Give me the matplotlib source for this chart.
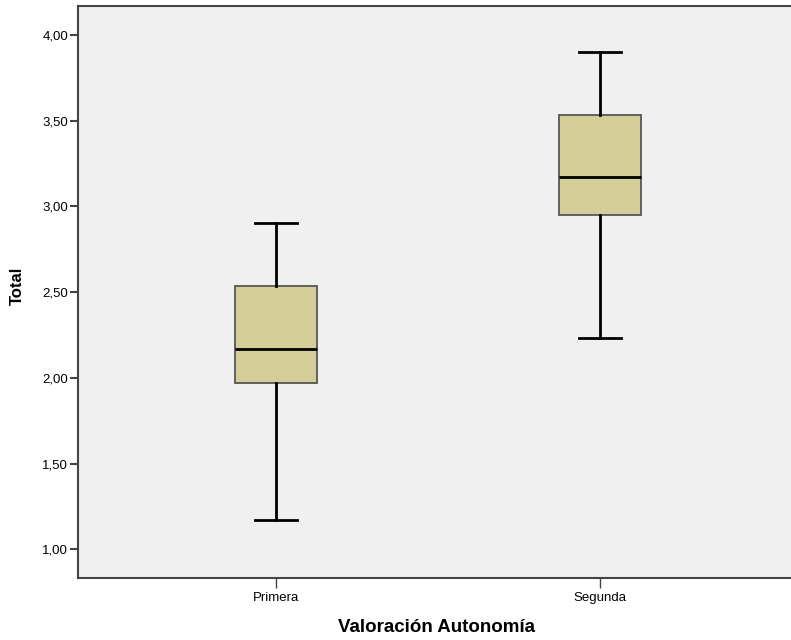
import matplotlib
matplotlib.use("Agg")
import matplotlib.pyplot as plt
from matplotlib.ticker import FuncFormatter

# box summary
groups = ["Primera", "Segunda"]
whislo = [1.17, 2.23]
q1 = [1.97, 2.95]
med = [2.17, 3.17]
q3 = [2.535, 3.53]
whishi = [2.90, 3.90]
yticks = [1.0, 1.5, 2.0, 2.5, 3.0, 3.5, 4.0]

plt.rcParams["font.family"] = ["Liberation Sans", "DejaVu Sans"]

fig = plt.figure(figsize=(7.91, 6.4), dpi=100)
ax = fig.add_axes([78 / 791, 62 / 640, 716 / 791, 572 / 640])
ax.set_facecolor("#f0f0f0")

stats = []
for i, g in enumerate(groups):
    stats.append({"label": g, "whislo": whislo[i], "q1": q1[i], "med": med[i],
                  "q3": q3[i], "whishi": whishi[i], "fliers": []})

ax.bxp(stats, positions=[1, 2], widths=0.254, patch_artist=True,
       showfliers=False,
       boxprops=dict(facecolor="#d3ce97", edgecolor="#555555", linewidth=1.3),
       medianprops=dict(color="black", linewidth=2),
       whiskerprops=dict(color="black", linewidth=2),
       capprops=dict(color="black", linewidth=2),
       capwidths=0.13)

ax.set_xlim(0.387, 2.60)
ax.set_ylim(0.833, 4.168)
ax.set_yticks(yticks)
ax.yaxis.set_major_formatter(FuncFormatter(lambda v, p: f"{v:.2f}".replace(".", ",")))

for s in ax.spines.values():
    s.set_color("#444444")
    s.set_linewidth(1.5)

ax.tick_params(axis="y", length=6, width=1.5, color="#444444", labelsize=9.5, pad=1)
ax.tick_params(axis="x", length=7, width=1, color="#444444", labelsize=9.5, pad=3)

ax.set_ylabel("Total", fontsize=12, fontweight="bold")
ax.yaxis.set_label_coords(-0.074, 0.51)
ax.set_xlabel("Valoración Autonomía", fontsize=13.5, fontweight="bold", labelpad=11)

fig.savefig("out.png", dpi=100, facecolor="white")
